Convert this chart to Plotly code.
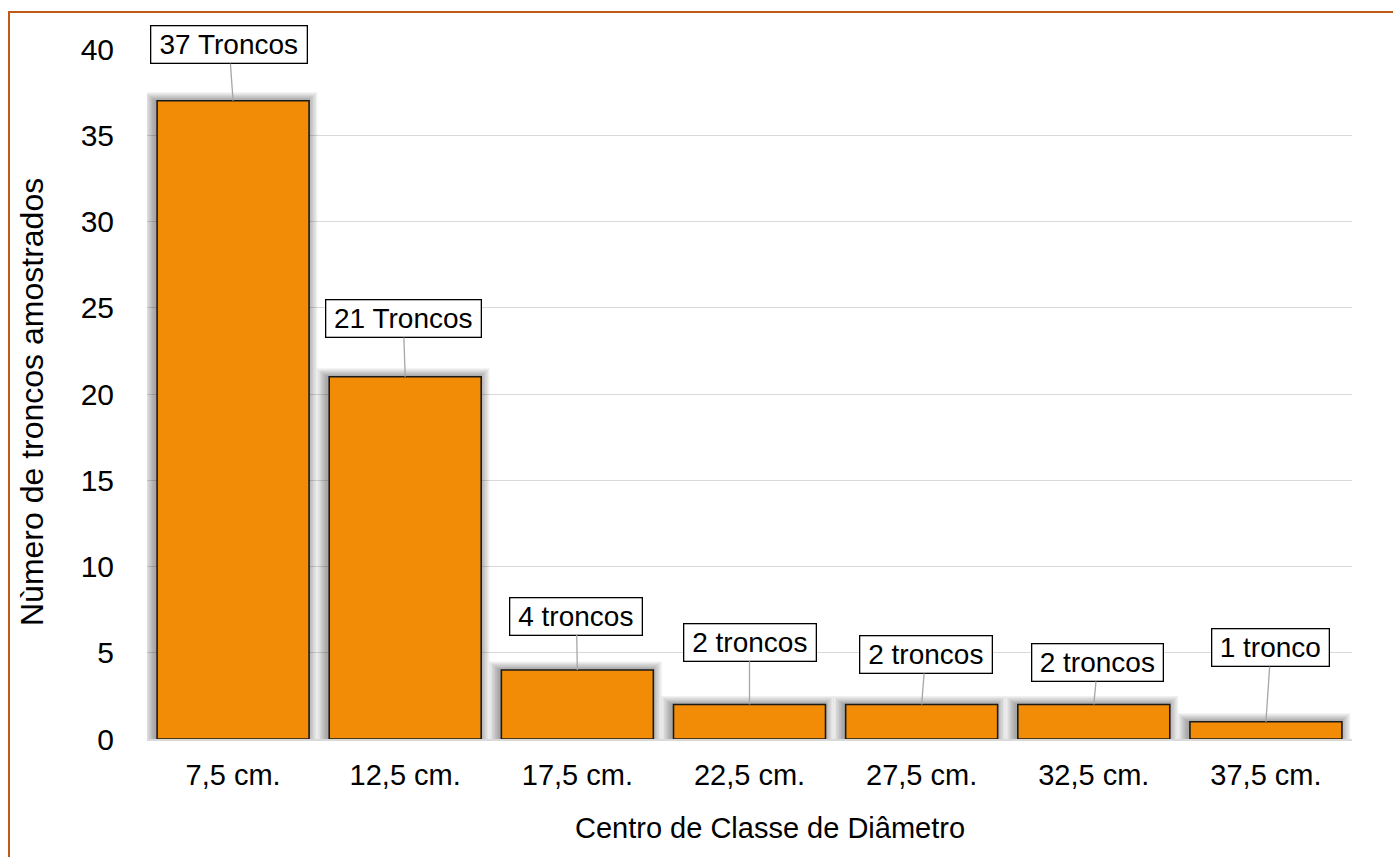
import plotly.graph_objects as go

# Class centres and number of sampled trunks per class
classes = ["7,5 cm.", "12,5 cm.", "17,5 cm.", "22,5 cm.", "27,5 cm.", "32,5 cm.", "37,5 cm."]
counts = [37, 21, 4, 2, 2, 2, 1]
labels = ["37 Troncos", "21 Troncos", "4 troncos", "2 troncos", "2 troncos", "2 troncos", "1 tronco"]

# pixel offsets of each label box from the top of its bar, and box widths
label_dx = [-4, -2, -1, 0, 4, 4, 5]
label_dy = [-56, -58, -54, -62, -50, -42, -74]
label_w = [149, 148, 125, 125, 125, 124, 110]

W, H = 1393, 857
ML, MR, MT, MB = 147, 41, 49, 118
plot_w = W - ML - MR
plot_h = H - MT - MB
ymax = 40
px_per_unit = plot_h / ymax
cat_px = plot_w / len(classes)
bar_w = 152 / cat_px


def px_x(px):
    return (px - ML) / plot_w


def px_y(py):
    return (MT + plot_h - py) / plot_h


fig = go.Figure()

# soft drop shadow built from stacked translucent bars
n_layers = 7
for k in range(n_layers, 0, -1):
    grow = k * 1.5
    w = (152 + 2 * grow) / cat_px
    fig.add_trace(go.Bar(
        x=classes,
        y=[v + grow * 0.8 / px_per_unit for v in counts],
        width=w,
        offset=-w / 2 - 2 / cat_px,
        marker=dict(color="rgba(0,0,0,0.055)", line=dict(width=0)),
        hoverinfo="skip",
        showlegend=False,
    ))

fig.add_trace(go.Bar(
    x=classes,
    y=counts,
    width=bar_w,
    offset=-bar_w / 2,
    marker=dict(color="#F28C06", line=dict(color="#1a1a1a", width=1.6)),
    showlegend=False,
))

for c, v, t, dx, dy, bw in zip(classes, counts, labels, label_dx, label_dy, label_w):
    fig.add_annotation(
        x=c, y=v, text=t,
        showarrow=True, arrowhead=0, arrowwidth=1.3, arrowcolor="#a6a6a6",
        ax=dx, ay=dy, width=bw, height=30,
        font=dict(family="Liberation Sans, Arial", size=28, color="#000000"),
        bgcolor="#ffffff", bordercolor="#000000", borderwidth=1.3, borderpad=3,
    )

# axis titles
fig.add_annotation(
    text="Centro de Classe de Diâmetro",
    xref="paper", yref="paper", x=px_x(770), y=px_y(828),
    xanchor="center", yanchor="middle", showarrow=False,
    font=dict(family="Liberation Sans, Arial", size=29, color="#000000"),
)
fig.add_annotation(
    text="Nùmero de troncos amostrados",
    xref="paper", yref="paper", x=px_x(32), y=px_y(402),
    xanchor="center", yanchor="middle", showarrow=False, textangle=-90,
    font=dict(family="Liberation Sans, Arial", size=32, color="#000000"),
)

# outer frame of the chart area
fig.add_shape(
    type="rect", xref="paper", yref="paper",
    x0=px_x(9), x1=px_x(1420), y0=px_y(900), y1=px_y(12),
    line=dict(color="#BF5B17", width=2), fillcolor="rgba(0,0,0,0)", layer="above",
)

fig.update_layout(
    width=W, height=H,
    margin=dict(l=ML, r=MR, t=MT, b=MB),
    barmode="overlay",
    plot_bgcolor="#ffffff", paper_bgcolor="#ffffff",
    font=dict(family="Liberation Sans, Arial", color="#000000"),
    xaxis=dict(
        type="category",
        range=[-0.5, len(classes) - 0.5],
        showgrid=False,
        showline=True, linecolor="#d9d9d9", linewidth=1.5,
        ticks="outside", ticklen=9, tickcolor="rgba(0,0,0,0)",
        tickfont=dict(size=29, color="#000000"),
    ),
    yaxis=dict(
        range=[0, ymax],
        dtick=5,
        showgrid=True, gridcolor="#d9d9d9", gridwidth=1,
        zeroline=False, showline=False,
        ticks="outside", ticklen=26, tickcolor="rgba(0,0,0,0)",
        tickfont=dict(size=30, color="#000000"),
    ),
)

fig.write_html("out.html")
